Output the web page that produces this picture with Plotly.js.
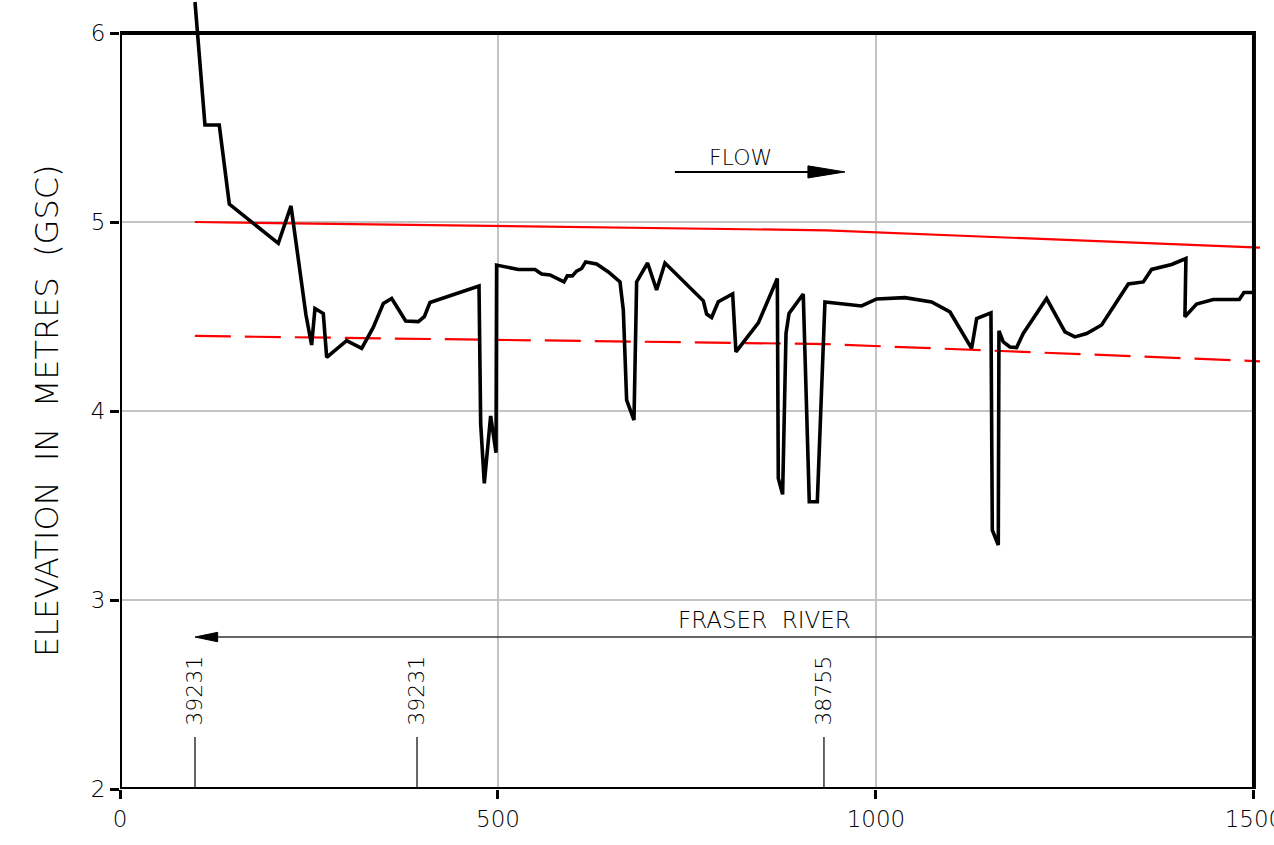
<!DOCTYPE html>
<html>
<head>
<meta charset="utf-8">
<script src="https://cdn.plot.ly/plotly-3.0.1.min.js"></script>
<style>html,body{margin:0;padding:0;background:#fff;}#chart{width:1274px;height:845px;}</style>
</head>
<body>
<div id="chart"></div>
<script>
// Ground profile (chainage m, elevation m GSC)
const profileX = [99.2, 112.4, 131.3, 144.6, 209.4, 226.2, 246, 253.5, 257.9, 268.9, 273.4, 299.8, 319.7,
  335, 348.3, 359.4, 377.9, 394.6, 402.6, 410, 474.9, 477.1, 481.9, 490.3, 497.4, 498.2,
  527, 549, 557.7, 568.8, 587.3, 591.7, 598.3, 604, 610.7, 616, 630.5, 646, 661.4, 665.8,
  670.2, 679.9, 683.4, 697.9, 709.8, 720.9, 771.6, 776, 782.6, 791.4, 810.4, 814.8, 844.4,
  869.5, 870.8, 876.5, 881, 885, 903.8, 911.8, 922.4, 932.5, 981, 1000.9, 1038.4, 1073.6,
  1097.9, 1126.5, 1133.2, 1152.1, 1153.9, 1161.8, 1162.7, 1168.4, 1177.2, 1186, 1194.8,
  1225.7, 1250, 1263.2, 1278.7, 1298.5, 1333.8, 1353.6, 1364.6, 1391.1, 1410, 1408.7,
  1424.1, 1446.2, 1480.6, 1486.8, 1500];
const profileY = [6.164, 5.513, 5.513, 5.095, 4.887, 5.085, 4.508, 4.349, 4.542, 4.516, 4.284, 4.372, 4.331,
  4.442, 4.569, 4.595, 4.476, 4.473, 4.499, 4.574, 4.661, 3.934, 3.617, 3.974, 3.779, 4.772,
  4.749, 4.749, 4.725, 4.72, 4.683, 4.715, 4.715, 4.74, 4.754, 4.789, 4.778, 4.736, 4.683, 4.534,
  4.058, 3.952, 4.683, 4.783, 4.64, 4.783, 4.583, 4.513, 4.495, 4.578, 4.619, 4.313, 4.466,
  4.701, 3.644, 3.559, 4.41, 4.516, 4.619, 3.52, 3.52, 4.577, 4.556, 4.593, 4.6, 4.577,
  4.524, 4.331, 4.489, 4.519, 3.37, 3.291, 4.424, 4.366, 4.339, 4.336, 4.41,
  4.595, 4.419, 4.392, 4.41, 4.455, 4.672, 4.683, 4.749, 4.775, 4.807, 4.499,
  4.566, 4.59, 4.59, 4.627, 4.627];

// Red design lines
const upperX = [99, 935, 1508];
const upperY = [5.0, 4.956, 4.864];
const lowerX = [99, 935, 1508];
const lowerY = [4.397, 4.354, 4.263];

// Station markers
const stationX = [99.2, 392.9, 931.2];
const stationLabels = ['39231', '39231', '38755'];

// Axis ticks
const xTicks = [0, 500, 1000, 1500];
const yTicks = [2, 3, 4, 5, 6];
const xGrid = [500, 1000];
const yGrid = [3, 4, 5];

// Annotation positions
const flowArrow = {x0: 734, x1: 959, y: 5.265, text: 'FLOW', tx: 821, ty: 5.339};
const riverArrow = {x0: 1500, x1: 99.2, y: 2.804, text: 'FRASER\u00a0\u00a0RIVER', tx: 853, ty: 2.894};

const FONT = 'DejaVu Sans, sans-serif';

const traces = [
  {x: upperX, y: upperY, mode: 'lines', line: {color: '#ff0000', width: 2.2}, hoverinfo: 'skip'},
  {x: lowerX, y: lowerY, mode: 'lines', line: {color: '#ff0000', width: 2.2, dash: '36px,14px'}, hoverinfo: 'skip'},
  {x: profileX, y: profileY, mode: 'lines', line: {color: '#000', width: 3.6}, hoverinfo: 'skip'}
];

// station tick lines as a trace built from the arrays
const sx = [], sy = [];
stationX.forEach(v => { sx.push(v, v, null); sy.push(2, 2.275, null); });
traces.push({x: sx, y: sy, mode: 'lines', line: {color: '#000', width: 1.2}, hoverinfo: 'skip', connectgaps: false});

const shapes = [];
xGrid.forEach(v => shapes.push({type: 'line', xref: 'x', yref: 'y', x0: v, x1: v, y0: 2, y1: 6, line: {color: '#c4c4c4', width: 2}, layer: 'below'}));
yGrid.forEach(v => shapes.push({type: 'line', xref: 'x', yref: 'y', x0: 0, x1: 1500, y0: v, y1: v, line: {color: '#c4c4c4', width: 2}, layer: 'below'}));
// frame
shapes.push({type: 'rect', xref: 'x', yref: 'y', x0: 0, x1: 1500, y0: 2, y1: 6, line: {color: '#000', width: 4}, layer: 'above'});
// FLOW arrow
shapes.push({type: 'line', xref: 'x', yref: 'y', x0: flowArrow.x0, x1: flowArrow.x1 - 30, y0: flowArrow.y, y1: flowArrow.y, line: {color: '#000', width: 2}});
shapes.push({type: 'path', xref: 'x', yref: 'y', path: `M ${flowArrow.x1} ${flowArrow.y} L ${flowArrow.x1 - 49} ${flowArrow.y + 0.032} L ${flowArrow.x1 - 49} ${flowArrow.y - 0.032} Z`, fillcolor: '#000', line: {color: '#000', width: 1}});
// FRASER RIVER arrow
shapes.push({type: 'line', xref: 'x', yref: 'y', x0: riverArrow.x0, x1: riverArrow.x1 + 20, y0: riverArrow.y, y1: riverArrow.y, line: {color: '#333', width: 1.5}});
shapes.push({type: 'path', xref: 'x', yref: 'y', path: `M ${riverArrow.x1} ${riverArrow.y} L ${riverArrow.x1 + 30} ${riverArrow.y + 0.025} L ${riverArrow.x1 + 30} ${riverArrow.y - 0.025} Z`, fillcolor: '#000', line: {color: '#000', width: 1}});

const annotations = [
  {xref: 'paper', yref: 'y', x: -0.064, y: 4.0, text: 'ELEVATION\u00a0\u00a0IN\u00a0\u00a0METRES\u00a0\u00a0(GSC)', textangle: -90, showarrow: false,
   font: {family: FONT, size: 32, color: '#000', weight: 200}, xanchor: 'center', yanchor: 'middle'},
  {xref: 'x', yref: 'y', x: flowArrow.tx, y: flowArrow.ty, text: flowArrow.text, showarrow: false,
   font: {family: FONT, size: 22, color: '#000', weight: 200}},
  {xref: 'x', yref: 'y', x: riverArrow.tx, y: riverArrow.ty, text: riverArrow.text, showarrow: false,
   font: {family: FONT, size: 23, color: '#000', weight: 200}}
];
stationX.forEach((v, i) => annotations.push({xref: 'x', yref: 'y', x: v, y: 2.52, text: stationLabels[i], textangle: -90, showarrow: false,
  font: {family: FONT, size: 22, color: '#000', weight: 200}}));

const layout = {
  width: 1274, height: 845,
  margin: {l: 120, r: 14, t: 0, b: 56, pad: 0},
  paper_bgcolor: '#fff', plot_bgcolor: '#fff',
  showlegend: false,
  xaxis: {range: [0, 1508], tickvals: xTicks, ticktext: xTicks.map(String), showgrid: false, zeroline: false, showline: false,
    ticks: 'outside', ticklen: 9, tickwidth: 3, tickcolor: '#000', ticklabeloverflow: 'allow',
    tickfont: {family: FONT, size: 23, color: '#000', weight: 200}},
  yaxis: {range: [2, 6.1746], tickvals: yTicks, ticktext: yTicks.map(String), showgrid: false, zeroline: false, showline: false,
    ticks: 'outside', ticklen: 9, tickwidth: 3, tickcolor: '#000',
    tickfont: {family: FONT, size: 23, color: '#000', weight: 200}},
  shapes: shapes,
  annotations: annotations
};

Plotly.newPlot('chart', traces, layout, {displayModeBar: false, staticPlot: true});
</script>
</body>
</html>
